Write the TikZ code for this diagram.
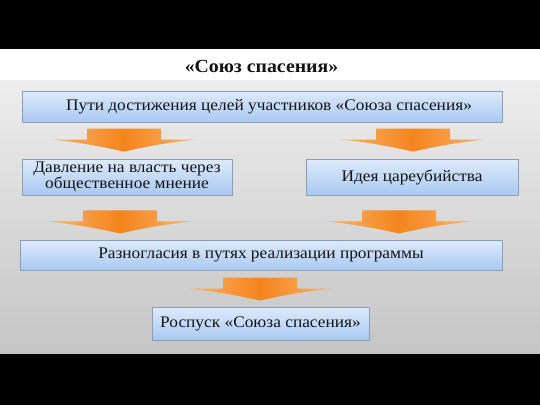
\documentclass[tikz,border=0pt]{standalone}
\usepackage{fontspec}
\setmainfont[FakeStretch=1.07]{Liberation Serif}
\usetikzlibrary{shadows,calc}
\definecolor{boxtop}{HTML}{DDEAFB}
\definecolor{boxbot}{HTML}{A9C9F2}
\definecolor{boxline}{HTML}{8C9DB8}
\definecolor{arrmid}{HTML}{F5841C}
\definecolor{arredge}{HTML}{F9B46A}
\definecolor{bgtop}{HTML}{EDEDED}
\definecolor{bgbot}{HTML}{C5C5C5}
\definecolor{txt}{HTML}{141414}
\tikzset{
  flowbox/.style={draw=boxline, line width=0.9pt, top color=boxtop, bottom color=boxbot,
    minimum height=#1, inner sep=1pt, align=center, text=txt,
    font=\fontsize{16.2}{15}\selectfont,
    drop shadow={opacity=0.25, shadow xshift=1pt, shadow yshift=-1.2pt}},
  flowbox/.default=30pt,
  pics/blockarrow/.style={code={
    \path[left color=arredge, right color=arredge, middle color=arrmid]
      (-37,0) -- (37,0) -- (37,-11) -- (73,-11)
      .. controls (40,-14) and (14,-20) .. (0,-23)
      .. controls (-14,-20) and (-40,-14) .. (-73,-11)
      -- (-37,-11) -- cycle;}}
}
\begin{document}
\begin{tikzpicture}[x=1pt,y=1pt]
\useasboundingbox (0,0) rectangle (540,405);
\fill[black] (0,0) rectangle (540,405);
\fill[white] (0,324) rectangle (540,356);
\shade[top color=bgtop, bottom color=bgbot] (0,52) rectangle (540,324);
\node[font=\bfseries\fontsize{18.5}{20}\selectfont, text=txt] (title) at (261.5,339) {«Союз спасения»};
\node[flowbox=31pt, minimum width=480pt] (b1) at (262,298.5) {\hspace*{14pt}Пути достижения целей участников «Союза спасения»};
\node[flowbox=36pt, minimum width=210pt] (b2) at (127,228) {Давление на власть через\\общественное мнение};
\node[flowbox=36pt, minimum width=212pt] (b3) at (412,228) {Идея цареубийства};
\node[flowbox=30pt, minimum width=482pt] (b4) at (261,150) {Разногласия в путях реализации программы};
\node[flowbox=33pt, minimum width=217pt] (b5) at (260.5,81.5) {Роспуск «Союза спасения»};
\pic at ($(b2.north)+(-3,30)$) {blockarrow};
\pic at ($(b3.north)+(1,30)$) {blockarrow};
\pic at ($(b2.south)+(-7,-15)$) {blockarrow};
\pic at ($(b3.south)+(-13,-15)$) {blockarrow};
\pic at ($(b5.north)+(-0.5,29)$) {blockarrow};
\end{tikzpicture}
\end{document}
